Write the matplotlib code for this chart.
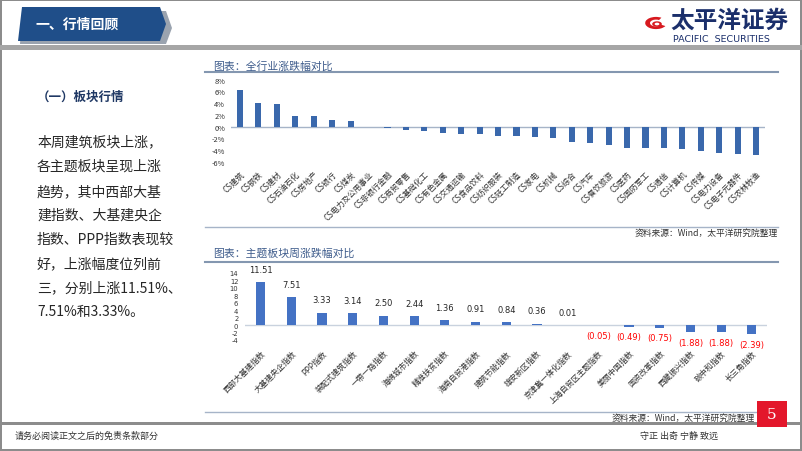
import matplotlib
matplotlib.use("Agg")
import matplotlib.pyplot as plt
from matplotlib.patches import Polygon, Rectangle, Wedge
import numpy as np

plt.rcParams['font.family'] = ['Noto Sans CJK SC', 'DejaVu Sans']
plt.rcParams['axes.unicode_minus'] = False

# ---------------- data ----------------
industries = ["CS建筑", "CS钢铁", "CS建材", "CS石油石化", "CS房地产", "CS银行", "CS煤炭",
              "CS电力及公用事业", "CS非银行金融", "CS商贸零售", "CS基础化工", "CS有色金属",
              "CS交通运输", "CS食品饮料", "CS纺织服装", "CS轻工制造", "CS家电", "CS机械",
              "CS综合", "CS汽车", "CS餐饮旅游", "CS医药", "CS国防军工", "CS通信",
              "CS计算机", "CS传媒", "CS电力设备", "CS电子元器件", "CS农林牧渔"]
industry_chg = [6.2, 4.0, 3.9, 1.9, 1.75, 1.1, 0.9,
                -0.1, -0.2, -0.5, -0.65, -1.05,
                -1.3, -1.3, -1.5, -1.5, -1.7, -1.95,
                -2.65, -2.7, -3.1, -3.65, -3.65, -3.7,
                -3.75, -4.05, -4.45, -4.65, -4.8]
industry_yticks = [8, 6, 4, 2, 0, -2, -4, -6]

themes = ["西部大基建指数", "大基建央企指数", "PPP指数", "装配式建筑指数", "一带一路指数",
          "海绵城市指数", "精准扶贫指数", "海南自贸港指数", "建筑节能指数", "雄安新区指数",
          "京津冀一体化指数", "上海自贸区主题指数", "美丽中国指数", "国资改革指数",
          "西藏振兴指数", "碳中和指数", "长三角指数"]
theme_chg = [11.51, 7.51, 3.33, 3.14, 2.50, 2.44, 1.36, 0.91, 0.84, 0.36, 0.01,
             -0.05, -0.49, -0.75, -1.88, -1.88, -2.39]
theme_yticks = [14, 12, 10, 8, 6, 4, 2, 0, -2, -4]

body_lines = ["本周建筑板块上涨，", "各主题板块呈现上涨", "趋势，其中西部大基",
              "建指数、大基建央企", "指数、PPP指数表现较", "好，上涨幅度位列前",
              "三，分别上涨11.51%、", "7.51%和3.33%。"]

# ---------------- layout helpers ----------------
W, H = 802, 452
fig = plt.figure(figsize=(W / 100, H / 100), dpi=100)
fig.patch.set_facecolor('white')


def fx(x):
    return x / W


def fy(y):
    return 1 - y / H


def axes_px(left, top, right, bottom):
    return fig.add_axes([fx(left), fy(bottom), (right - left) / W, (bottom - top) / H])


def hline(x0, x1, y, color, lw):
    fig.add_artist(plt.Line2D([fx(x0), fx(x1)], [fy(y), fy(y)], color=color, lw=lw,
                              transform=fig.transFigure))


def rect(x0, y0, x1, y1, color, **kw):
    fig.add_artist(Rectangle((fx(x0), fy(y1)), (x1 - x0) / W, (y1 - y0) / H,
                             transform=fig.transFigure, facecolor=color, edgecolor='none', **kw))


# ---------------- page frame ----------------
rect(0, 0, 802, 2, '#8C8C8C')
rect(0, 450, 802, 452, '#8C8C8C')
rect(0, 0, 2, 452, '#8C8C8C')
rect(800, 0, 802, 452, '#8C8C8C')
rect(0, 46, 802, 51, '#A6A6A6')
rect(0, 423, 802, 426, '#8C8C8C')

# header banner
shadow = Polygon([(fx(22), fy(12)), (fx(166), fy(12)), (fx(172), fy(29)), (fx(166), fy(45)),
                  (fx(20), fy(45))], closed=True, transform=fig.transFigure,
                 facecolor='#9AA3AF', edgecolor='none')
fig.add_artist(shadow)
banner = Polygon([(fx(22), fy(8)), (fx(160), fy(8)), (fx(166), fy(25)), (fx(160), fy(42)),
                  (fx(18), fy(42))], closed=True, transform=fig.transFigure,
                 facecolor='#1F4E89', edgecolor='none')
fig.add_artist(banner)
fig.text(fx(35), fy(25), "一、行情回顾", color='white', fontsize=10, fontweight='bold',
         ha='left', va='center')

# logo
fig.add_artist(Wedge((fx(656), fy(24)), 0.0135, 60, 330, width=0.006,
                     transform=fig.transFigure, facecolor='#D7191F', edgecolor='none'))
fig.add_artist(Wedge((fx(657), fy(25)), 0.006, 0, 360, width=0.003,
                     transform=fig.transFigure, facecolor='#D7191F', edgecolor='none'))
fig.text(fx(670), fy(21), "太平洋证券", color='#1B2F6B', fontsize=17, fontweight='bold',
         ha='left', va='center')
fig.text(fx(673), fy(39), "PACIFIC  SECURITIES", color='#1B2F6B', fontsize=6.8,
         family='DejaVu Sans', ha='left', va='center')

# left text
fig.text(fx(37), fy(97), "（一）板块行情", color='#1F3864', fontsize=9, fontweight='bold',
         ha='left', va='center')
line_y = [142, 167, 192, 216, 240, 264, 288, 312]
for yy, s in zip(line_y, body_lines):
    fig.text(fx(37), fy(yy), s, color='#262626', fontsize=10, ha='left', va='center')

# footer
fig.text(fx(15), fy(436), "请务必阅读正文之后的免责条款部分", color='#333333', fontsize=6.5,
         ha='left', va='center')
fig.text(fx(640), fy(436), "守正 出奇 宁静 致远", color='#333333', fontsize=6.5,
         ha='left', va='center')

# ---------------- chart 1 ----------------
fig.text(fx(213), fy(66), "图表：全行业涨跌幅对比", color='#3E5C8C', fontsize=7.8,
         ha='left', va='center')
hline(205, 778, 73, '#8497B0', 1.5)
hline(205, 778, 228, '#A6B4C8', 1.0)
fig.text(fx(778), fy(233), "资料来源：Wind，太平洋研究院整理", color='#333333', fontsize=6.3,
         style='italic', ha='right', va='center')

ax1 = axes_px(230.8, 80.7, 765.3, 163)
x1 = np.arange(len(industries))
ax1.bar(x1, industry_chg, width=0.33, color='#3A68AC', zorder=3)
ax1.axhline(0, color='#A6B4C8', lw=1.0, zorder=2)
ax1.set_xlim(-0.5, len(industries) - 0.5)
ax1.set_ylim(-6, 8)
ax1.set_yticks(industry_yticks)
ax1.set_yticklabels([f"{v}%" for v in industry_yticks], fontsize=5.3, color='#333333')
ax1.set_xticks(x1)
ax1.set_xticklabels(industries, rotation=45, ha='right', va='top', rotation_mode='anchor',
                    fontsize=5.7, color='#333333')
ax1.tick_params(axis='both', length=0, pad=4)
ax1.tick_params(axis='x', pad=5)
for sp in ax1.spines.values():
    sp.set_visible(False)
ax1.patch.set_alpha(0)

# ---------------- chart 2 ----------------
fig.text(fx(213), fy(254), "图表：主题板块周涨跌幅对比", color='#3E5C8C', fontsize=7.8,
         ha='left', va='center')
hline(205, 778, 263, '#8497B0', 1.5)
hline(205, 778, 413, '#A6B4C8', 1.0)
fig.text(fx(755), fy(418), "资料来源：Wind，太平洋研究院整理", color='#333333', fontsize=6.3,
         style='italic', ha='right', va='center')

ax2 = axes_px(245.3, 274, 767.2, 341)
x2 = np.arange(len(themes))
ax2.bar(x2, theme_chg, width=0.3, color='#4472C4', zorder=3)
ax2.axhline(0, color='#C9D2DE', lw=1.0, zorder=2)
ax2.set_xlim(-0.5, len(themes) - 0.5)
ax2.set_ylim(-4, 14)
ax2.set_yticks(theme_yticks)
ax2.set_yticklabels([str(v) for v in theme_yticks], fontsize=4.9, color='#333333',
                    family='DejaVu Sans')
ax2.set_xticks(x2)
ax2.set_xticklabels(themes, rotation=45, ha='right', va='top', rotation_mode='anchor',
                    fontsize=5.7, color='#333333')
ax2.tick_params(axis='both', length=0, pad=5)
ax2.tick_params(axis='x', pad=6)
for sp in ax2.spines.values():
    sp.set_visible(False)
ax2.patch.set_alpha(0)
for xi, v in zip(x2, theme_chg):
    if v >= 0:
        ax2.annotate(f"{v:.2f}", (xi, v), xytext=(0, 6), textcoords='offset points',
                     ha='center', va='bottom', fontsize=6, color='#262626',
                     family='DejaVu Sans')
    else:
        ax2.annotate(f"({abs(v):.2f})", (xi, v), xytext=(0, -4), textcoords='offset points',
                     ha='center', va='top', fontsize=6, color='#FF0000',
                     family='DejaVu Sans')

# page number box
rect(757, 402, 787, 428, '#E3172B', zorder=10)
fig.text(fx(772), fy(415), "5", color='white', fontsize=11, family='DejaVu Serif',
         ha='center', va='center', zorder=11)

fig.savefig("out.png", dpi=100)
